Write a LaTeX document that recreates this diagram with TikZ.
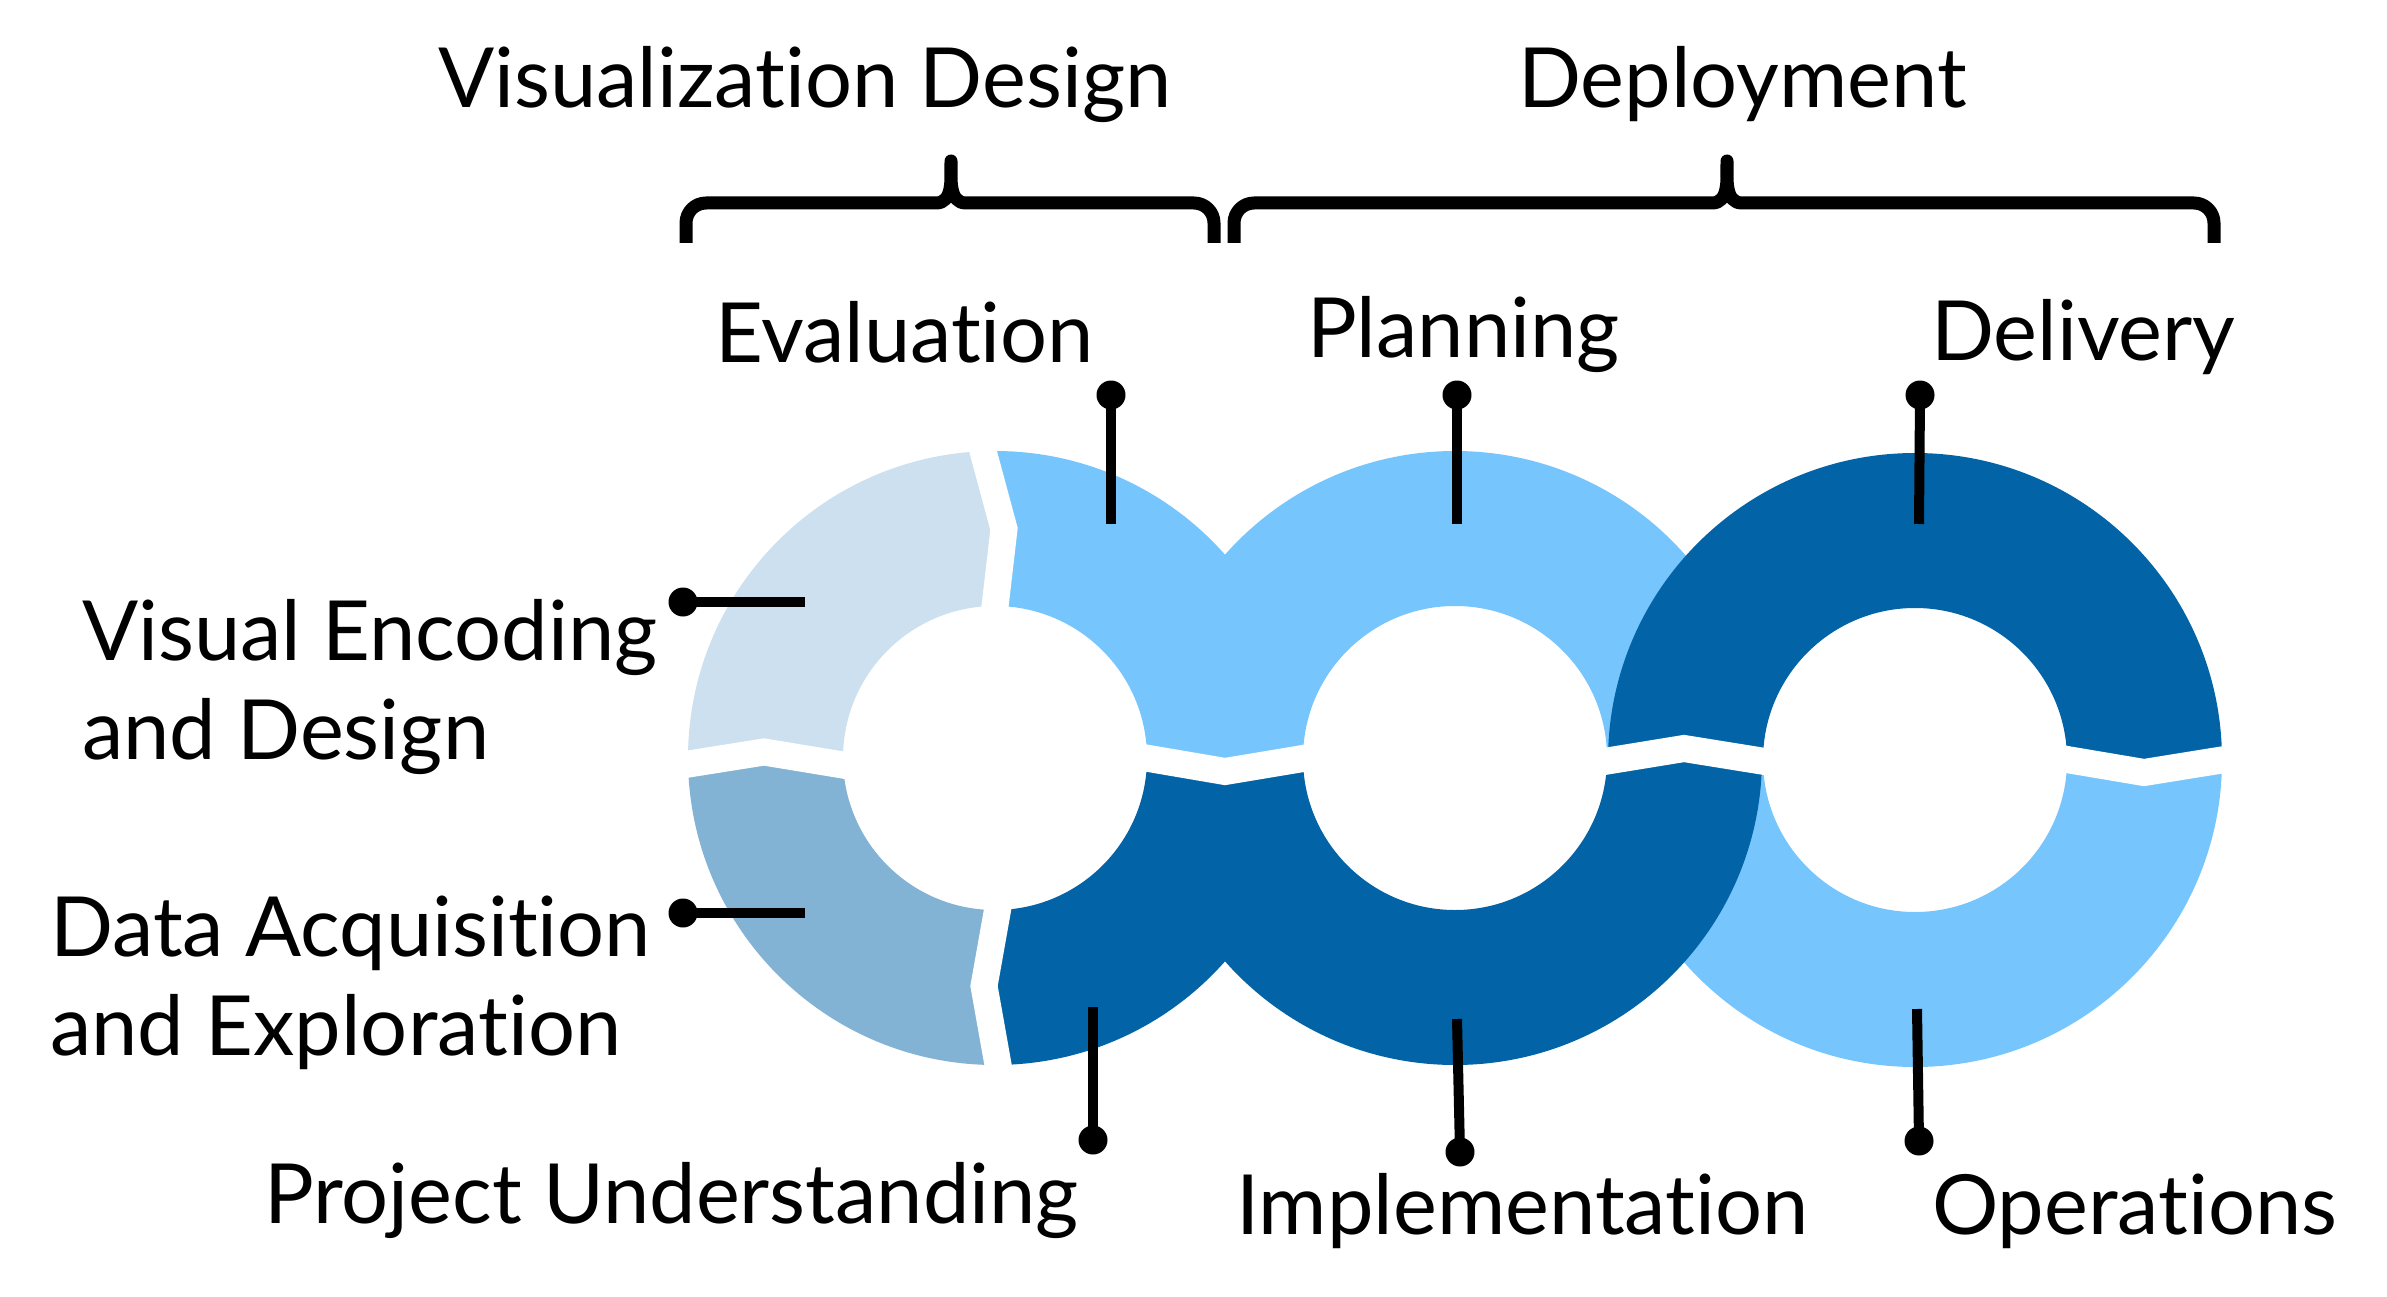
\documentclass[tikz,border=0pt]{standalone}
\usepackage{fontspec}
\setmainfont{Lato}[Ligatures=NoCommon]
\usepackage{xcolor}

\definecolor{ringpale}{HTML}{CCE0EF}
\definecolor{ringmid}{HTML}{82B2D4}
\definecolor{ringsky}{HTML}{76C6FD}
\definecolor{ringdeep}{HTML}{0264A7}

\tikzset{
  lbl/.style={anchor=base west, inner sep=0pt, align=left,
    font=\fontsize{83}{99}\selectfont},
  pindot/.style={circle, fill=black, inner sep=0pt, minimum size=29pt},
  pinline/.style={line width=10pt, black},
  gapline/.style={line width=27pt, white, line join=miter},
  bracepen/.style={line width=13pt, line join=round},
}

\begin{document}
\begin{tikzpicture}[x=1pt,y=1pt]
        \useasboundingbox (0,0) rectangle (2387,-1297);
        \coordinate (c1) at (995,-758);
        \coordinate (c2) at (1455,-758);
        \coordinate (c3) at (1915,-760);

        % ring segments, light ones first
        \foreach \c/\a/\b/\col in {c1/90/180/ringpale, c1/180/270/ringmid,
            c1/0/90/ringsky, c2/0/180/ringsky, c3/180/360/ringsky,
            c1/270/360/ringdeep, c2/180/360/ringdeep, c3/0/180/ringdeep}
            \fill[\col] (\c) ++(\a:307) arc[start angle=\a, end angle=\b, radius=307]
                -- ++({\b+180}:155) arc[start angle=\b, end angle=\a, radius=152] -- cycle;

        % white chevron gaps
        \draw[gapline] (980,-440) -- (1004,-529) -- (994,-615);
        \draw[gapline] (676,-766) -- (764,-752) -- (855,-767);
        \draw[gapline] (1000,-1076) -- (984,-986) -- (1000,-896);
        \draw[gapline] (1140,-757) -- (1225,-771.5) -- (1312,-757);
        \draw[gapline] (1598,-762.5) -- (1684,-748.5) -- (1771,-762.5);
        \draw[gapline] (2058,-758) -- (2144,-772.5) -- (2234,-758);

        % braces
        \draw[bracepen] (686,-243) -- (686,-223) to[out=90,in=180] (706,-203)
            -- (936,-203) to[out=0,in=-90] (951,-161) to[out=-90,in=180] (966,-203)
            -- (1194,-203) to[out=0,in=90] (1214,-223) -- (1214,-243);
        \draw[bracepen] (1234,-243) -- (1234,-223) to[out=90,in=180] (1254,-203)
            -- (1712,-203) to[out=0,in=-90] (1727,-161) to[out=-90,in=180] (1742,-203)
            -- (2194,-203) to[out=0,in=90] (2214,-223) -- (2214,-243);

        % group titles
        \node[lbl] (vistitle) at (438,-108) {Visualization Design};
        \node[lbl] (deptitle) at (1518,-108) {Deployment};

        % pins
        \node[pindot] (evaldot) at (1111,-395) {};
        \node[pindot] (plandot) at (1457,-395) {};
        \node[pindot] (delidot) at (1920,-395) {};
        \node[pindot] (encdot) at (683,-602) {};
        \node[pindot] (acqdot) at (683,-913) {};
        \node[pindot] (projdot) at (1093,-1140) {};
        \node[pindot] (impldot) at (1460,-1152) {};
        \node[pindot] (opsdot) at (1919,-1141) {};
        \coordinate (evalend) at (1111,-524);
        \coordinate (planend) at (1457,-524);
        \coordinate (deliend) at (1919,-524);
        \coordinate (encend) at (805,-602);
        \coordinate (acqend) at (805,-913);
        \coordinate (projend) at (1093,-1007);
        \coordinate (implend) at (1457,-1019);
        \coordinate (opsend) at (1917,-1009);
        \foreach \p in {eval, plan, deli, enc, acq, proj, impl, ops}
            \draw[pinline] (\p dot.center) -- (\p end);

        % stage labels
        \node[lbl] (evaltext) at (715,-362) {Evaluation};
        \node[lbl] (plantext) at (1307,-357) {Planning};
        \node[lbl] (delitext) at (1931,-360) {Delivery};
        \node[lbl] (enctext) at (82,-759) {Visual Encoding\\and Design};
        \node[lbl] (acqtext) at (50,-1055) {Data Acquisition\\and Exploration};
        \node[lbl] (projtext) at (264,-1223) {Project Understanding};
        \node[lbl] (impltext) at (1236,-1234) {Implementation};
        \node[lbl] (opstext) at (1932,-1234) {Operations};
    \end{tikzpicture}
\end{document}
